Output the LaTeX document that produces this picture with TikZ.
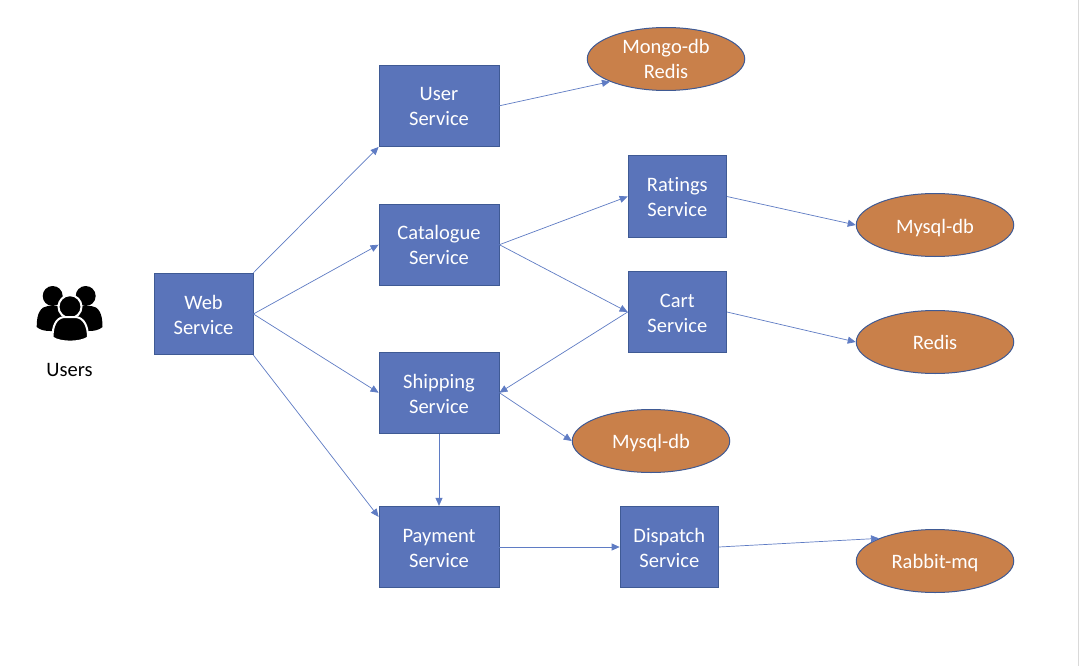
\documentclass[tikz,border=0pt]{standalone}
\usepackage{fontspec}
\setmainfont{Carlito}[Ligatures=NoCommon]
\usetikzlibrary{shapes.geometric,arrows.meta,calc}
\definecolor{svcfill}{HTML}{5A74BA}
\definecolor{svcline}{HTML}{3F5A94}
\definecolor{dbfill}{HTML}{C9804A}
\definecolor{conn}{HTML}{5F7CC4}
\tikzset{
  svc/.style={rectangle,draw=svcline,fill=svcfill,line width=0.8pt,text=white,align=center,inner sep=0pt,
    text height=40pt,text depth=0pt,minimum height=81.5pt,font=\fontsize{20.5}{25}\selectfont},
  db/.style={ellipse,draw=svcline,fill=dbfill,line width=1pt,text=white,align=center,inner sep=0pt,
    text height=15pt,text depth=0pt,minimum width=157.5pt,minimum height=63pt,font=\fontsize{20.5}{25}\selectfont},
  conn/.style={draw=conn,line width=0.7pt,-{Triangle[length=8pt,width=7pt]}},
}
\begin{document}
\begin{tikzpicture}[x=1pt,y=-1pt]
\useasboundingbox (0,0) rectangle (1079,666);
\fill[white] (0,0) rectangle (1079,666);
\draw[black!15,line width=1pt] (1078.5,0) -- (1078.5,666);

\node[svc,minimum width=99pt] (web) at (203.5,314) {Web\\Service};
\node[svc,minimum width=120pt] (user) at (439,105.8) {User\\Service};
\node[svc,minimum width=120pt] (cat) at (439,244.7) {Catalogue\\Service};
\node[svc,minimum width=120pt,text height=42pt] (ship) at (439,392.7) {Shipping\\Service};
\node[svc,minimum width=120pt] (pay) at (439,547) {Payment\\Service};
\node[svc,minimum width=98.5pt] (rate) at (677.3,196.5) {Ratings\\Service};
\node[svc,minimum width=98.5pt] (cart) at (677.3,312) {Cart\\Service};
\node[svc,minimum width=98.5pt] (disp) at (669.3,547) {Dispatch\\Service};

\node[db,text height=40pt] (mongo) at (666,59) {Mongo-db\\Redis};
\node[db,text height=17pt] (my1) at (935,225) {Mysql-db};
\node[db] (red) at (935,342) {Redis};
\node[db] (my2) at (651,441) {Mysql-db};
\node[db] (rab) at (935,561) {Rabbit-mq};

\draw[conn] (web.north east) -- (user.south west);
\draw[conn] (web.east) -- (cat.west);
\draw[conn] (web.east) -- (ship.west);
\draw[conn] (web.south east) -- ($(pay.north west)+(0,11)$);
\draw[conn] (user.east) -- (mongo.south west);
\draw[conn] (cat.east) -- (rate.west);
\draw[conn] (cat.east) -- (cart.west);
\draw[conn] (rate.east) -- (my1.west);
\draw[conn] (cart.east) -- (red.west);
\draw[conn] (cart.west) -- (ship.east);
\draw[conn] (ship.east) -- (my2.west);
\draw[conn] (ship.south) -- (pay.north);
\draw[conn] (pay.east) -- (disp.west);
\draw[conn] (disp.east) -- (rab.north west);

% users icon
\fill[black] (52.7,296) circle (10);
\fill[black] (85.7,296) circle (10);
\fill[black] (36.7,327) .. controls (36.5,313) and (41,306.5) .. (48,306) -- (58,306)
  .. controls (66,306.5) and (70,314) .. (70,331) -- (50,331) .. controls (45,331) and (40,330) .. (36.7,327) -- cycle;
\fill[black] (102.5,327) .. controls (102.7,313) and (98.2,306.5) .. (91.2,306) -- (81.2,306)
  .. controls (73.2,306.5) and (69.2,314) .. (69.2,331) -- (89.2,331) .. controls (94.2,331) and (99.2,330) .. (102.5,327) -- cycle;
\fill[black,draw=white,line width=2pt] (70,306.7) circle (11.5);
\fill[black,draw=white,line width=2pt] (52.5,337.5) .. controls (52.5,326) and (56,318) .. (64,317) -- (76,317)
  .. controls (84,318) and (88,326) .. (88,337.5) .. controls (80,343) and (60,343) .. (52.5,337.5) -- cycle;
\node[font=\fontsize{20.5}{25}\selectfont,text=black,inner sep=0pt] (users) at (69.5,370) {Users};
\end{tikzpicture}
\end{document}
